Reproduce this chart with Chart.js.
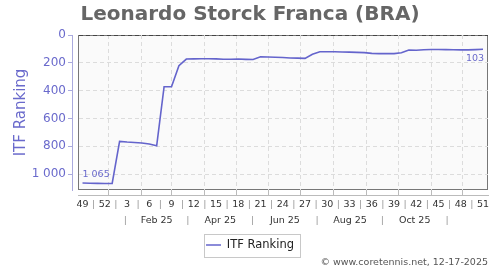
<!DOCTYPE html>
<html>
<head>
<meta charset="utf-8">
<script src="https://cdn.jsdelivr.net/npm/chart.js@4.4.1/dist/chart.umd.min.js"></script>
<style>
  html, body { margin: 0; padding: 0; background: #fff; }
</style>
</head>
<body>
<canvas id="rankChart" width="500" height="270"></canvas>
<script>
// weekly ITF ranking, week 49 of 2024 to week 51 of 2025
const weekLabels = [49, 50, 51, 52, 1, 2, 3, 4, 5, 6, 7, 8, 9, 10, 11, 12, 13, 14, 15, 16,
    17, 18, 19, 20, 21, 22, 23, 24, 25, 26, 27, 28, 29, 30, 31, 32, 33, 34, 35, 36,
    37, 38, 39, 40, 41, 42, 43, 44, 45, 46, 47, 48, 49, 50, 51];
const ranks = [1065, 1066, 1067, 1068, 1068, 765, 770, 773, 777, 784,
    797, 372, 372, 221, 173, 172, 171, 171, 172, 174,
    174, 173, 175, 176, 157, 158, 160, 162, 165, 166,
    168, 138, 121, 120, 120, 122, 123, 125, 127, 132,
    134, 134, 134, 128, 108, 110, 106, 104, 104, 105,
    106, 107, 107, 105, 103];
const yTicks = [0, 200, 400, 600, 800, 1000];
const monthLabels = ['|', 'Feb 25', '|', 'Apr 25', '|', 'Jun 25', '|', 'Aug 25', '|', 'Oct 25', '|'];

const Y_MAX = 1115;
const X_MIN = -4.25;
const X_MAX = 382.7;
const DAY = 86400000;
const origin = Date.UTC(2024, 11, 7);
const dayOf = (y, m, d) => (Date.UTC(y, m, d) - origin) / DAY;

const fmt = v => String(v).replace(/\B(?=(\d{3})+(?!\d))/g, ' ');

// week row: a label every third week, '|' in between
const weekTicks = [];
for (let i = 0; i <= weekLabels.length - 1; i += 1.5) {
    weekTicks.push({ value: i * 7, label: (i % 3 === 0) ? String(weekLabels[i]) : '|' });
}
// month row, centred in each month of 2025
const monthTicks = monthLabels.map((label, m) => ({
    value: (dayOf(2025, m, 1) + dayOf(2025, m + 1, 1)) / 2,
    label: label
}));
// vertical grid at month starts
const gridDays = [];
for (let m = 0; m < 12; m++) gridDays.push(dayOf(2025, m, 1));

const LAVENDER = '#6a6acc';

const plotFrame = {
    id: 'plotFrame',
    beforeDraw(chart) {
        const { ctx, chartArea: a } = chart;
        ctx.save();
        ctx.fillStyle = '#fafafa';
        ctx.fillRect(a.left, a.top, a.width, a.height);
        ctx.strokeStyle = '#777';
        ctx.lineWidth = 1;
        ctx.strokeRect(a.left + 0.5, a.top + 0.5, a.width - 1, a.height - 1);
        ctx.restore();
    }
};

const endLabels = {
    id: 'endLabels',
    afterDatasetsDraw(chart) {
        const ctx = chart.ctx;
        const pts = chart.getDatasetMeta(0).data;
        const first = pts[0];
        const last = pts[pts.length - 1];
        ctx.save();
        ctx.font = '9.5px "DejaVu Sans"';
        ctx.fillStyle = LAVENDER;
        ctx.textBaseline = 'middle';
        ctx.textAlign = 'left';
        ctx.fillText(fmt(ranks[0]), first.x, first.y - 9);
        ctx.textAlign = 'right';
        ctx.fillText(fmt(ranks[ranks.length - 1]), last.x + 1, last.y + 9);
        ctx.restore();
    }
};

const legendBorder = {
    id: 'legendBorder',
    afterDraw(chart) {
        const h = chart.legend.legendHitBoxes[0];
        if (!h) return;
        const ctx = chart.ctx;
        ctx.save();
        ctx.strokeStyle = '#c8c8c8';
        ctx.lineWidth = 1;
        const l = Math.round(h.left - 2) + 0.5;
        const t = Math.round(h.top - 5) + 0.5;
        const r = Math.round(h.left + h.width + 6) + 0.5;
        const b = Math.round(h.top + h.height + 6) + 0.5;
        ctx.strokeRect(l, t, r - l, b - t);
        ctx.restore();
    }
};

Chart.defaults.font.family = '"DejaVu Sans"';

const ctx = document.getElementById('rankChart').getContext('2d');
const rankChart = new Chart(ctx, {
    type: 'line',
    data: {
        datasets: [{
            label: 'ITF Ranking',
            data: ranks.map((r, i) => ({ x: i * 7, y: r })),
            xAxisID: 'x',
            yAxisID: 'y',
            borderColor: '#6464cc',
            borderWidth: 1.6,
            pointRadius: 0,
            tension: 0,
            fill: false
        }]
    },
    options: {
        responsive: false,
        animation: false,
        layout: { padding: 0 },
        scales: {
            x: {
                type: 'linear', position: 'bottom', weight: 1,
                min: X_MIN, max: X_MAX,
                afterBuildTicks: s => { s.ticks = weekTicks.map(t => ({ value: t.value })); },
                afterFit: s => { s.height = 15; },
                grid: { display: false, drawTicks: false },
                border: { display: true, color: '#bbb' },
                ticks: {
                    autoSkip: false, maxRotation: 0, padding: 4,
                    font: { size: 9.5 },
                    color: c => (weekTicks[c.index] && weekTicks[c.index].label === '|') ? '#999' : '#333',
                    callback: (v, i) => weekTicks[i].label
                }
            },
            xg: {
                type: 'linear', position: 'bottom', weight: 0,
                min: X_MIN, max: X_MAX,
                afterBuildTicks: s => { s.ticks = gridDays.map(v => ({ value: v })); },
                afterFit: s => { s.height = 5; },
                grid: { color: '#dcdcdc', tickColor: '#bbb', tickLength: 5 },
                border: { display: false, dash: [4, 3] },
                ticks: { display: false }
            },
            xm: {
                type: 'linear', position: 'bottom', weight: 2,
                min: X_MIN, max: X_MAX,
                afterBuildTicks: s => { s.ticks = monthTicks.map(t => ({ value: t.value })); },
                afterFit: s => { s.height = 21.25; },
                grid: { display: false, drawTicks: false },
                border: { display: false },
                ticks: {
                    autoSkip: false, maxRotation: 0, padding: 5,
                    font: { size: 9.5 },
                    color: c => (monthTicks[c.index] && monthTicks[c.index].label === '|') ? '#999' : '#333',
                    callback: (v, i) => monthTicks[i].label
                }
            },
            y: {
                type: 'linear', position: 'left', weight: 1,
                reverse: true, min: 0, max: Y_MAX,
                afterBuildTicks: s => { s.ticks = yTicks.map(v => ({ value: v })); },
                afterFit: s => { s.width = 72; },
                title: {
                    display: true, text: 'ITF Ranking', color: LAVENDER,
                    font: { size: 15 }, padding: { top: 12, bottom: 0 }
                },
                grid: {
                    color: c => (c.tick && c.tick.value === 0) ? '#444' : '#dcdcdc',
                    tickColor: '#aaaadd', tickLength: 4
                },
                border: { color: '#aaaadd', dash: [4, 3] },
                ticks: { color: LAVENDER, font: { size: 12 }, padding: 2, callback: v => fmt(v) }
            },
            ys: {
                type: 'linear', position: 'left', weight: 0,
                afterFit: s => { s.width = 6; },
                grid: { display: false, drawTicks: false },
                border: { display: false },
                ticks: { display: false }
            },
            yr: {
                type: 'linear', position: 'right', weight: 0,
                afterFit: s => { s.width = 12; },
                grid: { display: false, drawTicks: false },
                border: { display: false },
                ticks: { display: false }
            }
        },
        plugins: {
            title: {
                display: true,
                text: 'Leonardo Storck Franca (BRA)',
                color: '#666',
                font: { size: 20, weight: 'bold', lineHeight: 1 },
                padding: { top: 4.5, bottom: 10.5 }
            },
            subtitle: {
                display: true,
                text: '© www.coretennis.net, 12-17-2025',
                position: 'bottom',
                align: 'end',
                fullSize: false,
                color: '#555',
                font: { size: 9.5, lineHeight: 1 },
                padding: { top: -2.5, bottom: 2.25 }
            },
            legend: {
                position: 'bottom',
                labels: {
                    usePointStyle: true,
                    pointStyle: 'line',
                    pointStyleWidth: 15,
                    padding: 8,
                    color: '#222',
                    font: { size: 11.5 }
                }
            },
            tooltip: { enabled: false }
        }
    },
    plugins: [plotFrame, endLabels, legendBorder]
});
</script>
</body>
</html>
